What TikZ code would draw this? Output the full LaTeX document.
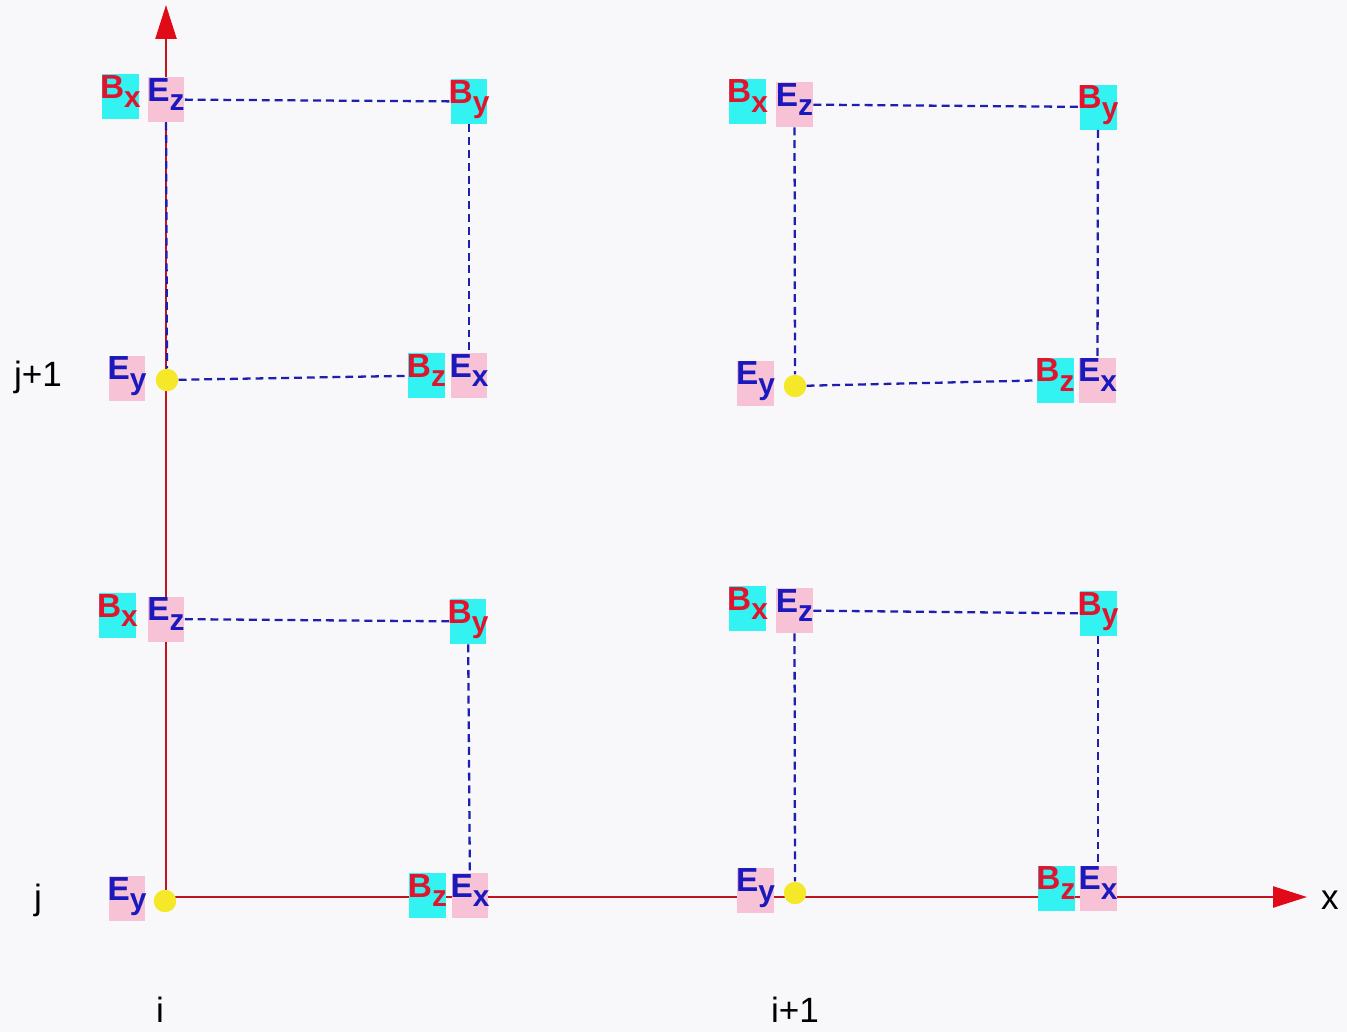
\documentclass[tikz,border=0pt]{standalone}
\usepackage{fontspec}
\setmainfont{Liberation Sans}
\usetikzlibrary{arrows.meta}
\definecolor{axisred}{RGB}{195,20,30}
\definecolor{tipred}{RGB}{225,10,25}
\definecolor{gridblue}{RGB}{30,30,175}
\definecolor{bcyan}{RGB}{50,242,242}
\definecolor{epink}{RGB}{248,194,214}
\definecolor{bred}{RGB}{225,20,45}
\definecolor{eblue}{RGB}{25,25,190}
\definecolor{dotyellow}{RGB}{245,232,40}
\definecolor{paper}{RGB}{248,248,250}
\newcommand{\fld}[2]{\makebox[0.74cm][c]{#1\raisebox{-5.5pt}{\fontsize{17}{17}\selectfont #2}}}
\tikzset{
  bfield/.style={fill=bcyan, text=bred, font=\fontsize{19}{19}\selectfont\bfseries,
    inner sep=0pt, minimum width=0.74cm, text height=0.48cm, text depth=0.42cm},
  efield/.style={bfield, fill=epink, text=eblue},
  knot/.style={circle, fill=dotyellow, minimum size=0.45cm, inner sep=0pt},
  gridline/.style={gridblue, line width=1.3pt, dash pattern=on 4.5pt off 2.8pt},
  axis/.style={axisred, line width=1.4pt, -{Triangle[length=0.68cm,width=0.42cm,color=tipred]}},
  idx/.style={font=\fontsize{20}{20}\selectfont}
}
\begin{document}
\begin{tikzpicture}[x=0.02cm,y=-0.02cm]
  \fill[paper] (0,0) rectangle (1347,1032);
  \useasboundingbox (0,0) rectangle (1347,1032);
  % axes
  \coordinate (orig) at (166,897);
  \coordinate (ytip) at (166,5);
  \coordinate (xtip) at (1307,897);
  \draw[axis] (orig) -- (ytip);
  \draw[axis] (orig) -- (xtip);
  % cell i, j
  \node[bfield] (bx1) at (117.5,615.5) {\fld{B}{x}};
  \node[efield] (ez1) at (166,619) {\fld{E}{z}};
  \node[bfield] (by1) at (468,621.5) {\fld{B}{y}};
  \node[efield] (ey1) at (127,898.5) {\fld{E}{y}};
  \node[knot] (o1) at (165,901) {};
  \node[bfield] (bz1) at (427.5,895.5) {\fld{B}{z}};
  \node[efield] (ex1) at (470,895.5) {\fld{E}{x}};
  % cell i, j+1
  \node[bfield] (bx2) at (120.5,96.5) {\fld{B}{x}};
  \node[efield] (ez2) at (166,99.5) {\fld{E}{z}};
  \node[bfield] (by2) at (469,101.5) {\fld{B}{y}};
  \node[efield] (ey2) at (127,378) {\fld{E}{y}};
  \node[knot] (o2) at (167,380) {};
  \node[bfield] (bz2) at (426.5,375.5) {\fld{B}{z}};
  \node[efield] (ex2) at (469,375.5) {\fld{E}{x}};
  % cell i+1, j
  \node[bfield] (bx3) at (747.5,608.5) {\fld{B}{x}};
  \node[efield] (ez3) at (794.5,610.5) {\fld{E}{z}};
  \node[bfield] (by3) at (1098,613.5) {\fld{B}{y}};
  \node[efield] (ey3) at (755.5,890) {\fld{E}{y}};
  \node[knot] (o3) at (795,893) {};
  \node[bfield] (bz3) at (1056,888) {\fld{B}{z}};
  \node[efield] (ex3) at (1098,888) {\fld{E}{x}};
  % cell i+1, j+1
  \node[bfield] (bx4) at (747.5,101) {\fld{B}{x}};
  \node[efield] (ez4) at (794.5,104.5) {\fld{E}{z}};
  \node[bfield] (by4) at (1098,107) {\fld{B}{y}};
  \node[efield] (ey4) at (755.5,383) {\fld{E}{y}};
  \node[knot] (o4) at (795,386) {};
  \node[bfield] (bz4) at (1055,380) {\fld{B}{z}};
  \node[efield] (ex4) at (1097.5,380) {\fld{E}{x}};
  % dashed cell edges
  \draw[gridline] (ez1) -- (by1);
  \draw[gridline] (by1) -- (ex1);
  \draw[gridline] (ez2) -- (by2);
  \draw[gridline] (by2) -- (ex2);
  \draw[gridline] (ez2) -- (o2);
  \draw[gridline] (o2) -- (bz2);
  \draw[gridline] (ez3) -- (by3);
  \draw[gridline] (by3) -- (ex3);
  \draw[gridline] (ez3) -- (o3);
  \draw[gridline] (ez4) -- (by4);
  \draw[gridline] (by4) -- (ex4);
  \draw[gridline] (ez4) -- (o4);
  \draw[gridline] (o4) -- (bz4);
  % indices
  \node[idx] (lj1) at (38,377) {j+1};
  \node[idx] (lj) at (38,900) {j};
  \node[idx] (li) at (160,1010) {i};
  \node[idx] (li1) at (795,1010) {i+1};
  \node[idx] (lx) at (1330,900) {x};
\end{tikzpicture}
\end{document}
